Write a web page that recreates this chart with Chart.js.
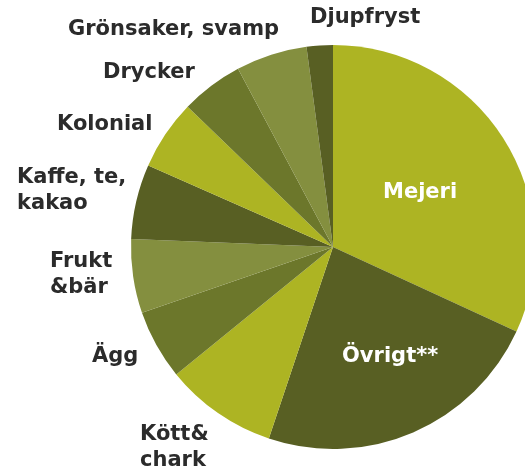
<!DOCTYPE html>
<html>
<head>
<meta charset="utf-8">
<script src="https://cdn.jsdelivr.net/npm/chart.js@4"></script>
<style>
  html, body { margin: 0; padding: 0; background: #ffffff; overflow: hidden; }
  #wrap { width: 525px; height: 473px; overflow: hidden; position: relative; }
  canvas { display: block; }
</style>
</head>
<body>
<div id="wrap"><canvas id="c" width="545" height="473"></canvas></div>
<script>
const categories = ["Mejeri", "Övrigt**", "Kött& chark", "Ägg", "Frukt &bär", "Kaffe, te, kakao", "Kolonial", "Drycker", "Grönsaker, svamp", "Djupfryst"];
const shares = [31.9, 23.3, 9.0, 5.6, 5.9, 6.0, 5.6, 5.0, 5.7, 2.1];
const sliceColors = ["#adb423", "#585f23", "#adb423", "#6c772b", "#848f3f", "#585f23", "#adb423", "#6c772b", "#848f3f", "#585f23"];

const labelLines = [
  ["Mejeri"], ["Övrigt**"], ["Kött&", "chark"], ["Ägg"], ["Frukt", "&bär"],
  ["Kaffe, te,", "kakao"], ["Kolonial"], ["Drycker"], ["Grönsaker, svamp"], ["Djupfryst"]
];
const labelPos = [
  [383, 193, "#ffffff"], [342, 357, "#ffffff"], [140, 435, "#2b2b2b"], [92, 357, "#2b2b2b"], [50, 262, "#2b2b2b"],
  [17, 178, "#2b2b2b"], [57, 125, "#2b2b2b"], [103, 73, "#2b2b2b"], [68, 30, "#2b2b2b"], [310, 18, "#2b2b2b"]
];

const labelPlugin = {
  id: 'fixedLabels',
  afterDraw(chart) {
    const ctx = chart.ctx;
    ctx.save();
    ctx.font = 'bold 21px "DejaVu Sans", sans-serif';
    ctx.textBaseline = 'middle';
    ctx.textAlign = 'left';
    labelLines.forEach((lines, i) => {
      const [x, y, col] = labelPos[i];
      ctx.fillStyle = col;
      lines.forEach((t, j) => ctx.fillText(t, x, y + j * 26));
    });
    ctx.restore();
  }
};

new Chart(document.getElementById('c'), {
  type: 'pie',
  data: {
    labels: categories,
    datasets: [{
      data: shares,
      backgroundColor: sliceColors,
      borderWidth: 0
    }]
  },
  options: {
    responsive: false,
    animation: false,
    layout: { padding: { left: 131, right: 10, top: 45, bottom: 24 } },
    plugins: {
      legend: { display: false },
      tooltip: { enabled: false }
    }
  },
  plugins: [labelPlugin]
});
</script>
</body>
</html>
